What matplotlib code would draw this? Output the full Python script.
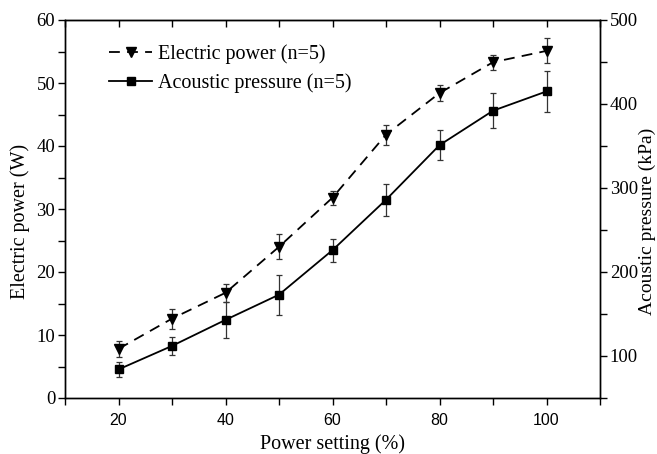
import matplotlib
matplotlib.use("Agg")
import matplotlib.pyplot as plt
from matplotlib.ticker import MultipleLocator
from matplotlib.lines import Line2D

power_setting = [20, 30, 40, 50, 60, 70, 80, 90, 100]
electric_power = [7.8, 12.6, 16.7, 24.0, 31.8, 41.8, 48.4, 53.3, 55.1]
electric_err = [1.3, 1.6, 1.4, 2.0, 1.1, 1.6, 1.3, 1.2, 2.0]
acoustic_pressure = [84, 112, 143, 173, 226, 286, 351, 392, 415]
acoustic_err = [8.5, 11, 21, 24, 13.5, 19, 18, 21, 24]

serif = ["Liberation Serif", "DejaVu Serif"]
sans = ["Liberation Sans", "DejaVu Sans"]

fig = plt.figure(figsize=(6.57, 4.54), dpi=100)
ax = fig.add_axes([65/657, 1-398/454, (600-65)/657, (398-20)/454])
ax2 = ax.twinx()

dash = (0, (6, 4))
ax.errorbar(power_setting, electric_power, yerr=electric_err, color="black",
            linestyle=dash, linewidth=1.3, marker="v", markersize=7,
            ecolor="#333333", elinewidth=0.9, capsize=2.5, capthick=0.9)
ax2.errorbar(power_setting, acoustic_pressure, yerr=acoustic_err, color="black",
             linestyle="-", linewidth=1.3, marker="s", markersize=6,
             ecolor="#333333", elinewidth=0.9, capsize=2.5, capthick=0.9)

ax.set_xlim(10, 110)
ax.set_ylim(0, 60)
ax2.set_ylim(50, 500)

ax.xaxis.set_major_locator(MultipleLocator(20))
ax.xaxis.set_minor_locator(MultipleLocator(10))
ax.yaxis.set_major_locator(MultipleLocator(10))
ax.yaxis.set_minor_locator(MultipleLocator(5))
ax2.yaxis.set_major_locator(MultipleLocator(100))
ax2.yaxis.set_minor_locator(MultipleLocator(50))

ax.tick_params(axis="x", which="major", direction="out", length=5, width=1, labelsize=11.5, pad=6)
ax.tick_params(axis="x", which="minor", direction="out", length=5, width=1)
ax.tick_params(axis="y", which="both", direction="out", length=5, width=1, labelsize=13.5, pad=2)
ax2.tick_params(axis="y", which="both", direction="out", length=5, width=1, labelsize=13.5, pad=2)

for lab in ax.get_xticklabels():
    lab.set_family(sans)
for lab in ax.get_yticklabels() + ax2.get_yticklabels():
    lab.set_family(serif)

top = ax.secondary_xaxis("top")
top.xaxis.set_major_locator(MultipleLocator(20))
top.xaxis.set_minor_locator(MultipleLocator(10))
top.tick_params(axis="x", which="both", direction="in", length=5, width=1, labeltop=False)

for a in (ax, ax2):
    for s in a.spines.values():
        s.set_linewidth(1.0)

ax.set_xlabel("Power setting (%)", family=serif, fontsize=14.5, labelpad=4)
ax.set_ylabel("Electric power (W)", family=serif, fontsize=14.5)
ax2.set_ylabel("Acoustic pressure (kPa)", family=serif, fontsize=14)
ax.yaxis.set_label_coords(-0.065, 0.466)
ax2.yaxis.set_label_coords(1.073, 0.466)

h1 = Line2D([], [], color="black", linestyle=dash, linewidth=1.3, marker="v", markersize=7)
h2 = Line2D([], [], color="black", linestyle="-", linewidth=1.3, marker="s", markersize=6)
ax.legend([h1, h2], ["Electric power (n=5)", "Acoustic pressure (n=5)"],
          loc="upper left", bbox_to_anchor=(0.082, 0.935), frameon=False,
          prop={"family": serif, "size": 14.5}, handlelength=2.15,
          handletextpad=0.3, labelspacing=0.45, borderaxespad=0, borderpad=0)

fig.savefig("out.png", dpi=100)
